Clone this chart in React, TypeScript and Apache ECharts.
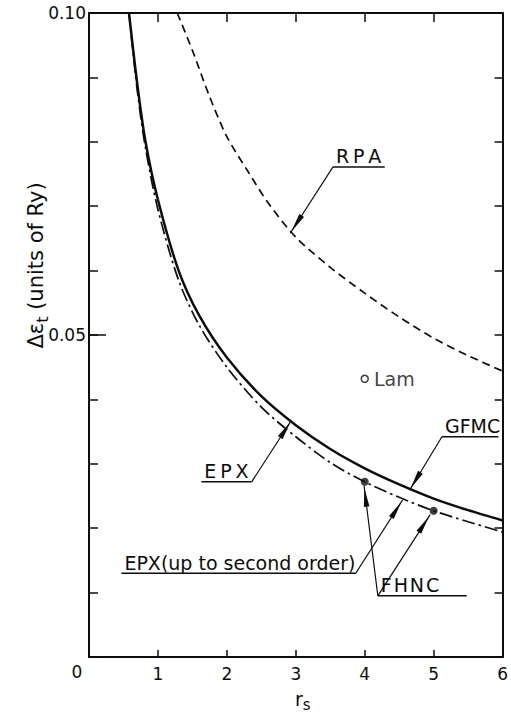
import React, { useEffect, useRef } from 'react';
import * as echarts from 'echarts';

// ---- data ----
const rpaR = [1.28, 1.5, 1.75, 2.0, 2.3, 2.6, 3.0, 3.5, 4.0, 4.5, 5.0, 5.5, 6.0];
const rpaV = [0.1, 0.0942, 0.087, 0.0808, 0.0755, 0.0705, 0.0652, 0.0605, 0.0565, 0.0528, 0.0495, 0.0468, 0.0444];
const epxR = [0.58, 0.7, 0.82, 1.0, 1.3, 1.6, 2.0, 2.5, 3.0, 3.5, 4.0, 4.5, 5.0, 5.5, 6.0];
const epxV = [0.1, 0.089, 0.08, 0.071, 0.06, 0.053, 0.0465, 0.0405, 0.036, 0.0323, 0.0293, 0.0268, 0.0246, 0.0228, 0.0212];
const epx2R = [0.58, 0.7, 0.82, 1.0, 1.3, 1.6, 2.0, 2.5, 3.0, 3.5, 4.0, 4.5, 5.0, 5.5, 6.0];
const epx2V = [0.1, 0.088, 0.079, 0.0695, 0.0585, 0.0515, 0.045, 0.0388, 0.0342, 0.0302, 0.0272, 0.0248, 0.0227, 0.021, 0.0194];
const fhncR = [4, 5];
const fhncV = [0.0272, 0.0227];
const lamR = [4];
const lamV = [0.0432];

const yLabelValues = [0.05, 0.1];
const yLabelTexts = ['0.05', '0.10'];

// annotations: label, underline x range & y (data units), anchor end of underline, arrow tips
const annLabels = ['R\u2009P\u2009A', 'E\u2009P\u2009X', 'GFMC', 'EPX(up to second order)', 'F\u200aH\u200aN\u200aC'];
const annUnderX1 = [3.54, 1.63, 5.12, 0.47, 4.19];
const annUnderX2 = [4.29, 2.36, 5.94, 3.87, 5.48];
const annUnderY = [0.0761, 0.0272, 0.0342, 0.013, 0.0095];
const annAnchorEnd = ['start', 'end', 'start', 'end', 'start'];
const annTips: number[][][] = [
  [[2.92, 0.0658]],
  [[2.94, 0.0368]],
  [[4.65, 0.0259]],
  [[4.55, 0.0244]],
  [[3.99, 0.0266], [4.95, 0.0221]],
];

const zip = (a: number[], b: number[]) => a.map((v, i) => [v, b[i]]);

const INK = '#0d0d0d';
const FONT = 'DejaVu Sans';
const f = (size: number) => `${size}px "DejaVu Sans"`;

const textWidth = (text: string, font: string) => {
  const t = new (echarts as any).graphic.Text({ style: { text, font } });
  return t.getBoundingRect().width as number;
};

export default function App() {
  const ref = useRef<HTMLDivElement>(null);
  useEffect(() => {
    if (!ref.current) return;
    const chart = echarts.init(ref.current, undefined, { renderer: 'svg' });
    const axisLine = { lineStyle: { color: INK, width: 2 } };
    chart.setOption({
      animation: false,
      backgroundColor: '#fff',
      grid: { left: 89, right: 5, top: 13, bottom: 60 },
      xAxis: [
        {
          type: 'value', min: 0, max: 6, interval: 1,
          axisLine: { ...axisLine, onZero: false },
          axisTick: { inside: true, length: 7, lineStyle: { color: INK, width: 1.5 } },
          axisLabel: {
            color: INK, fontSize: 17, fontFamily: FONT, margin: 8,
            formatter: (v: number) => (v === 0 ? '' : String(v)),
          },
          splitLine: { show: false },
        },
        {
          type: 'value', position: 'top', min: 0, max: 6, interval: 1,
          axisLine: { ...axisLine, onZero: false },
          axisTick: { inside: true, length: 9, lineStyle: { color: INK, width: 1.5 } },
          axisLabel: { show: false },
          splitLine: { show: false },
        },
      ],
      yAxis: [
        {
          type: 'value', min: 0, max: 0.1, interval: 0.01,
          axisLine: { ...axisLine, onZero: false },
          axisTick: { inside: true, length: 9, lineStyle: { color: INK, width: 1.5 } },
          axisLabel: {
            color: INK, fontSize: 17, fontFamily: FONT, margin: 3,
            formatter: (v: number) => {
              const i = yLabelValues.findIndex((t) => Math.abs(t - v) < 1e-6);
              return i >= 0 ? yLabelTexts[i] : '';
            },
          },
          splitLine: { show: false },
        },
        {
          type: 'value', position: 'right', min: 0, max: 0.1, interval: 0.01,
          axisLine: { ...axisLine, onZero: false },
          axisTick: { inside: true, length: 8, lineStyle: { color: INK, width: 1.5 } },
          axisLabel: { show: false },
          splitLine: { show: false },
        },
      ],
      series: [
        {
          name: 'RPA', type: 'line', data: zip(rpaR, rpaV), smooth: 0.3, showSymbol: false,
          lineStyle: { color: INK, width: 1.7, type: [8, 5] },
        },
        {
          name: 'EPX', type: 'line', data: zip(epxR, epxV), smooth: 0.3, showSymbol: false,
          lineStyle: { color: INK, width: 2.5 },
        },
        {
          name: 'EPX2', type: 'line', data: zip(epx2R, epx2V), smooth: 0.3, showSymbol: false,
          lineStyle: { color: INK, width: 1.7, type: [13, 4, 2.5, 4] },
        },
        {
          name: 'FHNC', type: 'scatter', data: zip(fhncR, fhncV), symbol: 'circle', symbolSize: 8,
          itemStyle: { color: INK },
        },
        {
          name: 'Lam', type: 'scatter', data: zip(lamR, lamV), symbol: 'circle', symbolSize: 7,
          itemStyle: { color: '#fff', borderColor: INK, borderWidth: 1.5 },
          label: { show: true, position: 'right', formatter: 'Lam', color: INK, fontSize: 19, fontFamily: FONT, distance: 5 },
        },
      ],
    });

    const px = (p: number[]) => chart.convertToPixel({ seriesIndex: 0 }, p) as number[];
    const g: any[] = [];
    const lineSt = { stroke: INK, lineWidth: 1.2 };

    annLabels.forEach((label, i) => {
      const a = px([annUnderX1[i], annUnderY[i]]);
      const b = px([annUnderX2[i], annUnderY[i]]);
      g.push({ type: 'line', shape: { x1: a[0], y1: a[1], x2: b[0], y2: b[1] }, style: { ...lineSt, lineWidth: 1.5 } });
      g.push({
        type: 'text', x: a[0] + 3, y: a[1] - 1,
        style: { text: label, fill: INK, font: f(19), align: 'left', textAlign: 'left', verticalAlign: 'bottom', textVerticalAlign: 'bottom' },
      });
      const s = annAnchorEnd[i] === 'start' ? a : b;
      annTips[i].forEach((tp) => {
        const t = px(tp);
        g.push({ type: 'line', shape: { x1: s[0], y1: s[1], x2: t[0], y2: t[1] }, style: lineSt });
        const dx = s[0] - t[0];
        const dy = s[1] - t[1];
        const len = Math.hypot(dx, dy);
        const ux = dx / len;
        const uy = dy / len;
        const nx = -uy;
        const ny = ux;
        const tipX = t[0] + ux * 2;
        const tipY = t[1] + uy * 2;
        const bx = t[0] + ux * 21;
        const by = t[1] + uy * 21;
        g.push({
          type: 'polygon',
          shape: { points: [[tipX, tipY], [bx + nx * 2.8, by + ny * 2.8], [bx - nx * 2.8, by - ny * 2.8]] },
          style: { fill: INK },
        });
      });
    });

    // longer tick at 0.05 on the left axis
    const m = px([0, 0.05]);
    g.push({ type: 'line', shape: { x1: m[0], y1: m[1], x2: m[0] + 17, y2: m[1] }, style: { stroke: INK, lineWidth: 1.5 } });

    // shared origin label
    const o = px([0, 0]);
    g.push({
      type: 'text', x: o[0] - 12, y: o[1] + 15,
      style: { text: '0', fill: INK, font: f(17), align: 'center', textAlign: 'center', verticalAlign: 'middle', textVerticalAlign: 'middle' },
    });

    // x axis title r_s
    const xc = px([3, 0]);
    const rW = textWidth('r', f(19));
    const sW = textWidth('s', f(15));
    const xStart = xc[0] + 7 - (rW + sW) / 2;
    g.push({
      type: 'text', x: xStart, y: xc[1] + 42,
      style: { text: 'r', fill: INK, font: f(19), align: 'left', textAlign: 'left', verticalAlign: 'middle', textVerticalAlign: 'middle' },
    });
    g.push({
      type: 'text', x: xStart + rW, y: xc[1] + 48,
      style: { text: 's', fill: INK, font: f(15), align: 'left', textAlign: 'left', verticalAlign: 'middle', textVerticalAlign: 'middle' },
    });

    // y axis title, rotated group
    const yc = px([0, 0.0608]);
    const p1 = '\u0394\u03b5';
    const p2 = 't';
    const p3 = ' (units of Ry)';
    const w1 = textWidth(p1, f(21));
    const w2 = textWidth(p2, f(16));
    const w3 = textWidth(p3, f(21));
    const x0 = -(w1 + w2 + w3) / 2;
    const ts = (text: string, x: number, y: number, size: number) => ({
      type: 'text', x, y,
      style: { text, fill: INK, font: f(size), align: 'left', textAlign: 'left', verticalAlign: 'middle', textVerticalAlign: 'middle' },
    });
    g.push({
      type: 'group', x: 36, y: yc[1], rotation: Math.PI / 2,
      children: [ts(p1, x0, 0, 21), ts(p2, x0 + w1, 6, 16), ts(p3, x0 + w1 + w2, 0, 21)],
    });

    chart.setOption({ graphic: g });
    return () => chart.dispose();
  }, []);
  return <div ref={ref} style={{ position: 'fixed', left: 0, top: 0, width: 511, height: 717, background: '#fff' }} />;
}
